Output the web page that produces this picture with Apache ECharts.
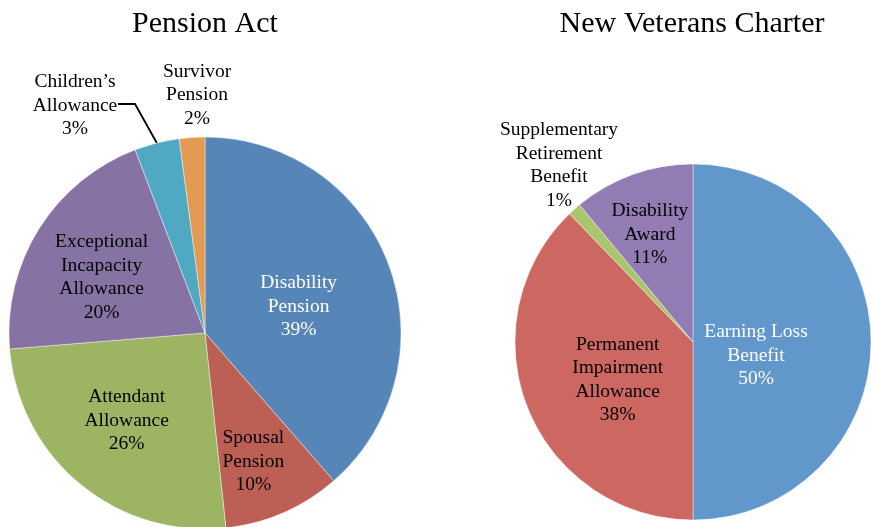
<!DOCTYPE html>
<html><head><meta charset="utf-8">
<script src="https://cdn.jsdelivr.net/npm/echarts@6/dist/echarts.min.js"></script>
<style>html,body{margin:0;padding:0;background:#fff}#c{width:871px;height:527px}</style>
</head>
<body><div id="c"></div>
<script>
// ---- data ----
const titles = ['Pension Act', 'New Veterans Charter'];
const paCategories = ['Disability\nPension', 'Spousal\nPension', 'Attendant\nAllowance', 'Exceptional\nIncapacity\nAllowance', 'Children’s\nAllowance', 'Survivor\nPension'];
const paValues = [38.6, 9.7, 25.4, 20.5, 3.7, 2.1];          // slice sizes as measured on the picture
const paPercentLabels = ['39%', '10%', '26%', '20%', '3%', '2%']; // percentages as printed
const nvcCategories = ['Earning Loss\nBenefit', 'Permanent\nImpairment\nAllowance', 'Supplementary\nRetirement\nBenefit', 'Disability\nAward'];
const nvcValues = [50, 37.8, 1.2, 11];
const nvcPercentLabels = ['50%', '38%', '1%', '11%'];

// ---- styling / layout (not data) ----
const FONT = 'Liberation Serif, Times New Roman, serif';
const paColors = ['#5686B7', '#BC5F55', '#9DB563', '#8672A3', '#4FA9C3', '#E39A52'];
const nvcColors = ['#6197CB', '#CD6761', '#A9C66E', '#937CB4'];
const paCenter = [205, 333], paRadius = 196;
const nvcCenter = [693, 342], nvcRadius = 178;
// per-label nudges (inside labels) and placements (outside labels)
const paLabelShift = [[-1, 9], [8, 36], [-14, 10], [-18, -2], null, null];
const paLabelPlace = [null, null, null, null, [75, 105.5], [197, 95]];
const nvcLabelShift = [[-29, 13.5], [10, 3.5], null, [-12, -21]];
const nvcLabelPlace = [null, null, [559, 165.5], null];
const paLine = { 4: [[135, 104], [118, 104]] };

function makeData(cats, vals, pcts, colors, outsideIdx, lineIdx, whiteIdx) {
  return cats.map((c, i) => {
    const d = { name: c, value: vals[i], pct: pcts[i], itemStyle: { color: colors[i] } };
    if (outsideIdx.includes(i)) {
      d.label = { position: 'outside' };
      d.labelLine = { show: lineIdx.includes(i), length: 20, length2: 20 };
    }
    if (whiteIdx.includes(i)) {
      d.label = Object.assign(d.label || {}, { color: '#ffffff' });
    }
    return d;
  });
}

function layoutFn(shift, place, linePts) {
  return function (p) {
    const i = p.dataIndex;
    if (place[i]) {
      const r = { x: place[i][0], y: place[i][1], align: 'center', verticalAlign: 'middle' };
      if (linePts && linePts[i] && p.labelLinePoints) {
        const s = p.labelLinePoints[0];
        r.labelLinePoints = [s, linePts[i][0], linePts[i][1]];
      }
      return r;
    }
    if (shift[i]) return { dx: shift[i][0], dy: shift[i][1] };
    return {};
  };
}

const labelBase = {
  show: true,
  position: 'inside',
  fontFamily: FONT,
  fontSize: 19.5,
  lineHeight: 23.5,
  color: '#000',
  align: 'center',
  formatter: p => p.name + '\n' + p.data.pct
};

const chart = echarts.init(document.getElementById('c'), null, { renderer: 'canvas' });
chart.setOption({
  backgroundColor: '#ffffff',
  animation: false,
  title: [
    { text: titles[0], left: paCenter[0], top: 9, padding: 0, textAlign: 'center',
      textStyle: { fontFamily: FONT, fontSize: 30, fontWeight: 'normal', color: '#000' } },
    { text: titles[1], left: nvcCenter[0] - 1, top: 9, padding: 0, textAlign: 'center',
      textStyle: { fontFamily: FONT, fontSize: 30, fontWeight: 'normal', color: '#000' } }
  ],
  series: [
    {
      type: 'pie',
      center: paCenter,
      radius: [0, paRadius],
      startAngle: 90,
      clockwise: true,
      avoidLabelOverlap: false,
      itemStyle: { borderColor: 'rgba(255,255,255,0.6)', borderWidth: 0.7 },
      label: labelBase,
      labelLine: { show: false, lineStyle: { color: '#000', width: 1.8 } },
      labelLayout: layoutFn(paLabelShift, paLabelPlace, paLine),
      emphasis: { disabled: true },
      data: makeData(paCategories, paValues, paPercentLabels, paColors, [4, 5], [4], [0])
    },
    {
      type: 'pie',
      center: nvcCenter,
      radius: [0, nvcRadius],
      startAngle: 90,
      clockwise: true,
      avoidLabelOverlap: false,
      itemStyle: { borderColor: 'rgba(255,255,255,0.6)', borderWidth: 0.7 },
      label: labelBase,
      labelLine: { show: false },
      labelLayout: layoutFn(nvcLabelShift, nvcLabelPlace, null),
      emphasis: { disabled: true },
      data: makeData(nvcCategories, nvcValues, nvcPercentLabels, nvcColors, [2], [], [0])
    }
  ]
});
</script>
</body></html>
